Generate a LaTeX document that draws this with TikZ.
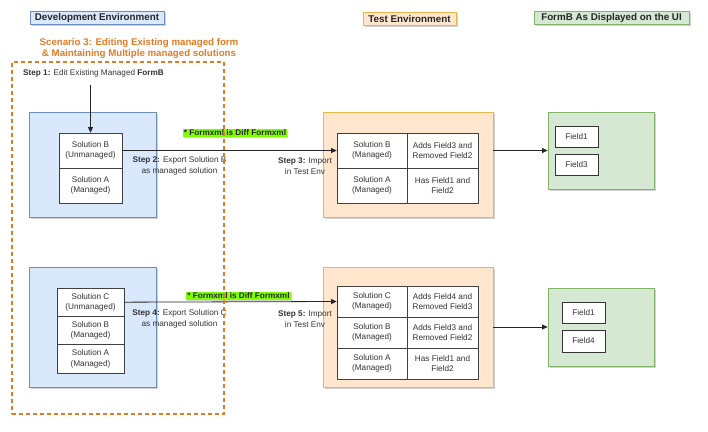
\documentclass[tikz,border=0pt]{standalone}
\usepackage{fontspec}
\setmainfont{Liberation Sans}
\usetikzlibrary{shadows,arrows.meta}
\definecolor{bfill}{HTML}{DAE8FC}
\definecolor{bdraw}{HTML}{6C8EBF}
\definecolor{ofill}{HTML}{FFE6CC}
\definecolor{odraw}{HTML}{D79B00}
\definecolor{gfill}{HTML}{D5E8D4}
\definecolor{gdraw}{HTML}{82B366}
\definecolor{scen}{HTML}{E07B24}
\definecolor{lime}{HTML}{80FF00}
\definecolor{txt}{HTML}{333333}
\begin{document}
\begin{tikzpicture}[x=1pt,y=-1pt,
  shd/.style={drop shadow={shadow xshift=1.5pt,shadow yshift=-1.5pt,fill=black!40,opacity=0.45}},
  hdr/.style={draw,line width=0.8pt,inner sep=0pt,minimum height=13pt,font=\fontsize{9.8}{11}\selectfont\bfseries,text=black!85,shd},
  env/.style={draw,line width=0.8pt,inner sep=0pt,shd},
  cell/.style={draw=black!75,fill=white,line width=0.7pt,inner sep=0pt,align=center,font=\fontsize{8.2}{10.5}\selectfont,text=txt},
  fld/.style={draw=black!80,fill=white,line width=0.8pt,inner sep=0pt,minimum width=43pt,minimum height=21pt,font=\fontsize{8.2}{9}\selectfont,text=txt},
  note/.style={align=center,inner sep=0pt,font=\fontsize{8.2}{10.5}\selectfont,text=txt},
  diff/.style={fill=lime,inner sep=1pt,font=\fontsize{8.2}{8.5}\selectfont\bfseries,text=black!85,drop shadow={shadow xshift=1pt,shadow yshift=-1pt,fill=black!40,opacity=0.4}},
  arr/.style={-{Triangle[length=5.5pt,width=5pt]},line width=0.8pt,draw=black!85}
]
\useasboundingbox (0,0) rectangle (708,431);

% headers
\node[hdr,fill=bfill,draw=bdraw,minimum width=134pt] (hdev) at (97,18) {Development Environment};
\node[hdr,fill=ofill,draw=odraw!70,minimum width=93pt] (htest) at (409.5,18.5) {Test Environment};
\node[hdr,fill=gfill,draw=gdraw,minimum width=155pt] (hui) at (611.5,18) {FormB As Displayed on the UI};

% scenario title
\node[align=center,inner sep=0pt,text=scen,font=\fontsize{9.7}{11}\selectfont\bfseries] (title) at (139,48.5) {Scenario 3: Editing Existing managed form\\\& Maintaining Multiple managed solutions};

\node[anchor=west,inner sep=0pt,font=\fontsize{8.2}{9}\selectfont,text=txt] (step1) at (23,73.5) {\textbf{Step 1:} Edit Existing Managed \textbf{FormB}};
\coordinate (s1top) at (90.5,85);

% ===== upper row =====
\node[env,fill=bfill,draw=bdraw,minimum width=127pt,minimum height=105pt] (dev1) at (92.5,164.5) {};
\node[cell,minimum width=63pt,minimum height=35pt] (d1b) at (90.5,150.5) {Solution B\\(Unmanaged)};
\node[cell,minimum width=63pt,minimum height=35pt] (d1a) at (90.5,185.5) {Solution A\\(Managed)};

\node[env,fill=ofill,draw=odraw!70,minimum width=170pt,minimum height=105pt] (test1) at (408,164.5) {};
\node[cell,minimum width=70pt,minimum height=35pt] (t1b) at (372,150.5) {Solution B\\(Managed)};
\node[cell,minimum width=71pt,minimum height=35pt] (t1bn) at (442.5,150.5) {Adds Field3 and\\Removed Field2};
\node[cell,minimum width=70pt,minimum height=35pt] (t1a) at (372,185.5) {Solution A\\(Managed)};
\node[cell,minimum width=71pt,minimum height=35pt] (t1an) at (442.5,185.5) {Has Field1 and\\Field2};

\node[env,fill=gfill,draw=gdraw,minimum width=106pt,minimum height=77pt] (ui1) at (601,150.5) {};
\node[fld] (u1f1) at (576.5,136.5) {Field1};
\node[fld] (u1f3) at (576.5,164.5) {Field3};

\draw[arr] (s1top) -- (d1b.north);
\draw[arr] (d1b.east) -- (t1b.west);
\draw[arr] (test1.east |- ui1.west) -- (ui1.west);

\node[diff] (diff1) at (235,133) {* Formxml is Diff Formxml};
\node[note] (step2) at (179.5,166) {\textbf{Step 2:} Export Solution B\\as managed solution};
\node[note] (step3) at (305,166) {\textbf{Step 3:} Import\\in Test Env};

% ===== lower row =====
\node[env,fill=bfill,draw=bdraw,minimum width=127pt,minimum height=120pt] (dev2) at (92.5,327) {};
\node[cell,minimum width=67pt,minimum height=28.33pt] (d2c) at (90.5,302.17) {Solution C\\(Unmanaged)};
\node[cell,minimum width=67pt,minimum height=28.33pt] (d2b) at (90.5,330.5) {Solution B\\(Managed)};
\node[cell,minimum width=67pt,minimum height=28.33pt] (d2a) at (90.5,358.83) {Solution A\\(Managed)};

\node[env,fill=ofill,draw=odraw!70,minimum width=170pt,minimum height=120pt] (test2) at (408,327) {};
\node[cell,minimum width=70pt,minimum height=31pt] (t2c) at (372,301.5) {Solution C\\(Managed)};
\node[cell,minimum width=71pt,minimum height=31pt] (t2cn) at (442.5,301.5) {Adds Field4 and\\Removed Field3};
\node[cell,minimum width=70pt,minimum height=31pt] (t2b) at (372,332.5) {Solution B\\(Managed)};
\node[cell,minimum width=71pt,minimum height=31pt] (t2bn) at (442.5,332.5) {Adds Field3 and\\Removed Field2};
\node[cell,minimum width=70pt,minimum height=31pt] (t2a) at (372,363.5) {Solution A\\(Managed)};
\node[cell,minimum width=71pt,minimum height=31pt] (t2an) at (442.5,363.5) {Has Field1 and\\Field2};

\node[env,fill=gfill,draw=gdraw,minimum width=106pt,minimum height=78pt] (ui2) at (601,327) {};
\node[fld] (u2f1) at (583.5,312.5) {Field1};
\node[fld,minimum height=22pt] (u2f4) at (583.5,341) {Field4};

\draw[arr] (d2c.east) -- (t2c.west);
\draw[arr] (test2.east |- ui2.west) -- (ui2.west);

\node[diff] (diff2) at (238.5,296) {* Formxml is Diff Formxml};
\node[note] (step4) at (179.5,319) {\textbf{Step 4:} Export Solution C\\as managed solution};
\node[note] (step5) at (305,319) {\textbf{Step 5:} Import\\in Test Env};

% dashed scenario frame (on top)
\node[draw=scen,dashed,dash pattern=on 4pt off 3pt,line width=1.3pt,inner sep=0pt,minimum width=212pt,minimum height=352pt] (frame) at (118,238) {};
\end{tikzpicture}
\end{document}
